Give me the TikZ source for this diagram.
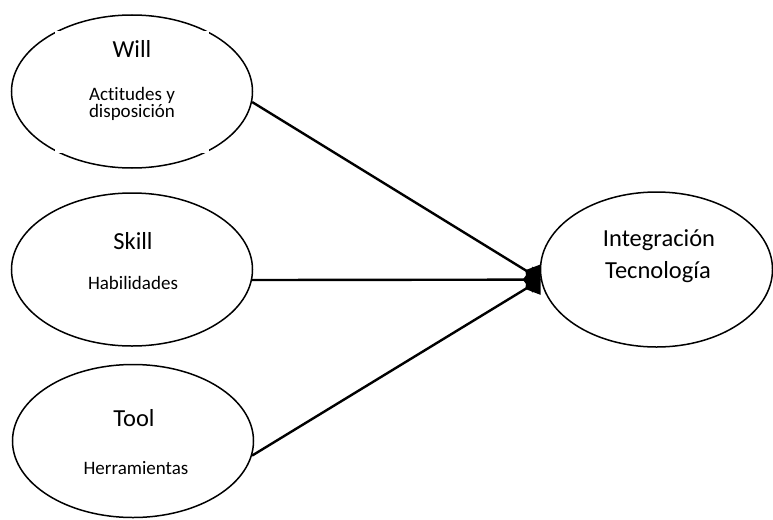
\documentclass[tikz,border=0pt]{standalone}
\usepackage{fontspec}
\setmainfont{Carlito}[Ligatures=NoCommon]
\usetikzlibrary{arrows.meta,shapes.geometric,positioning}

\begin{document}
\begin{tikzpicture}[
    x=1pt, y=-1pt,
    oval/.style={ellipse, draw=black, line width=1.5pt, inner sep=0pt, minimum width=241pt, minimum height=153pt},
    titletext/.style={font=\fontsize{24.5}{26}\selectfont, anchor=base, inner sep=0pt},
    subtext/.style={font=\fontsize{19}{17}\selectfont, anchor=base, inner sep=0pt},
    link/.style={line width=2.4pt, -{Kite[length=18pt 0, width=26pt 0, inset=10pt 0]}}
]
    \useasboundingbox (0,0) rectangle (773,519);

    % === FACTOR OVALS ===
    \node[oval] (will) at (132,91.5) {};
    \node[oval] (skill) at (132,269.5) {};
    \node[oval] (tool) at (133,441) {};
    \node[oval, minimum width=232pt, minimum height=155pt] (integ) at (656.5,269.5) {};

    % white text box lying over the Will oval
    \node[fill=white, minimum width=154pt, minimum height=122pt, inner sep=0pt] (willbox) at (132,92) {};

    % === LABELS ===
    \node[titletext] (willname) at (132,58) {Will};
    \node[subtext] (willsuba) at (132,100.5) {Actitudes y};
    \node[subtext] (willsubb) at (132,117) {disposición};

    \node[titletext] (skillname) at (133,249.3) {Skill};
    \node[subtext] (skillsub) at (133,289) {Habilidades};

    \node[titletext] (toolname) at (134,426) {Tool};
    \node[subtext] (toolsub) at (136,474) {Herramientas};

    \node[titletext] (intega) at (659,246.7) {Integración};
    \node[titletext] (integb) at (658,278) {Tecnología};

    % === CONNECTORS ===
    \draw[link] (will.-5) -- (integ.-175);
    \draw[link] (skill.-5) -- (integ.-175);
    \draw[link] (tool.-7.5) -- (integ.-175);
\end{tikzpicture}
\end{document}
